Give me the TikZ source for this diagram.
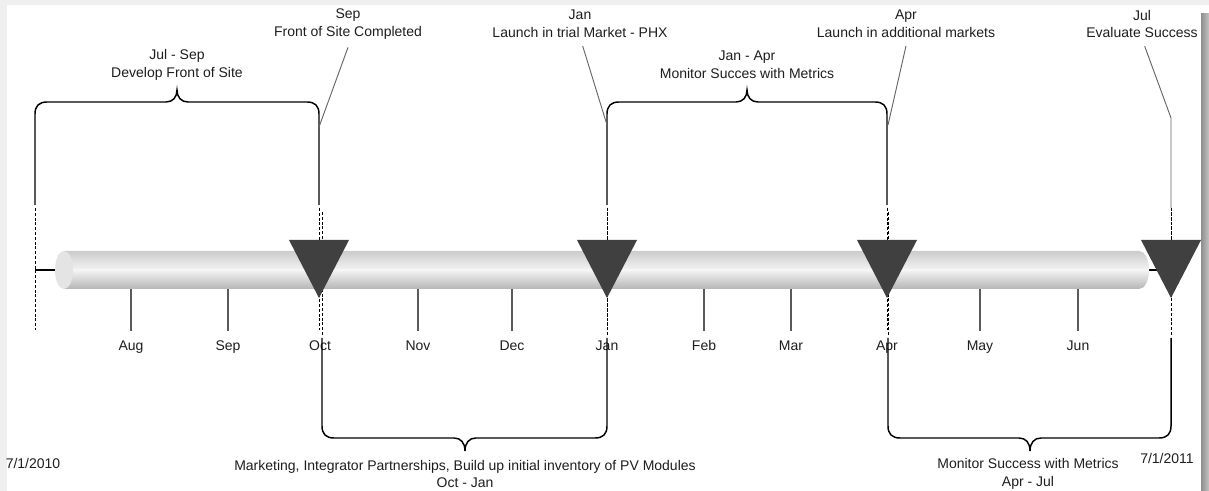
\documentclass[tikz,border=0pt]{standalone}
\usepackage{fontspec}
\setmainfont{Liberation Sans}
\definecolor{framegray}{HTML}{EFEFEF}
\definecolor{shadowdark}{HTML}{8E8E8E}
\definecolor{shadowlight}{HTML}{C4C4C4}
\definecolor{bartop}{HTML}{CACACA}
\definecolor{barmid}{HTML}{F4F4F4}
\definecolor{barbot}{HTML}{B2B2B2}
\definecolor{barcap}{HTML}{E4E4E4}
\definecolor{milestone}{HTML}{404040}
\definecolor{tickgray}{HTML}{5A5A5A}
\definecolor{leadergray}{HTML}{666666}
\definecolor{textcol}{HTML}{1E1E1E}
\tikzset{
  lbl/.style={align=center, inner sep=0pt, text=textcol,
    font=\fontsize{10.5}{13.2}\selectfont},
  monthlbl/.style={inner sep=0pt, anchor=base, text=textcol, font=\fontsize{10.5}{12}\selectfont},
  bracel/.style={draw=black, line width=1.1pt},
  dashl/.style={draw=black, line width=0.75pt, dash pattern=on 2.2pt off 1.4pt},
  leader/.style={draw=leadergray, line width=0.7pt},
  tickl/.style={draw=tickgray, line width=0.9pt},
  stub/.style={draw=black, line width=1.8pt},
  tri/.style={fill=milestone},
}
% brace above the bar: left x, right x, tip x
\newcommand{\TopBrace}[3]{%
  \draw[bracel] (#1,205) -- (#1,114)
    .. controls (#1,106) and ({#1+4},102) .. ({#1+12},102) -- ({#3-11},102)
    .. controls ({#3-4},102) and (#3,97) .. (#3,90)
    .. controls (#3,97) and ({#3+4},102) .. ({#3+11},102) -- ({#2-12},102)
    .. controls ({#2-4},102) and (#2,106) .. (#2,114) -- (#2,205);
  \draw[dashl] (#1,208) -- (#1,330);
  \draw[dashl] (#2,208) -- (#2,330);
}
% brace below the bar: left x, right x, tip x
\newcommand{\BotBrace}[3]{%
  \draw[bracel] (#1,338) -- (#1,426)
    .. controls (#1,434) and ({#1+4},438) .. ({#1+12},438) -- ({#3-11},438)
    .. controls ({#3-4},438) and (#3,443) .. (#3,451)
    .. controls (#3,443) and ({#3+4},438) .. ({#3+11},438) -- ({#2-12},438)
    .. controls ({#2-4},438) and (#2,434) .. (#2,426) -- (#2,338);
  \draw[dashl] (#1,212) -- (#1,336);
  \draw[dashl] (#2,212) -- (#2,336);
}
% milestone marker pointing down onto the bar
\newcommand{\Marker}[1]{%
  \fill[tri] ({#1-30},240) -- ({#1+30},240) -- (#1,298) -- cycle;
}
\begin{document}
\begin{tikzpicture}[x=0.75pt, y=-0.75pt]
\useasboundingbox (0,0) rectangle (1209,491);
% page frame
\fill[white] (0,0) rectangle (1209,491);
\fill[framegray] (0,0) rectangle (7,491);
\fill[framegray] (0,0) rectangle (1209,5);
\shade[left color=shadowdark, right color=shadowlight] (1201,14) rectangle (1209,491);

% end stubs of the time axis
\draw[stub] (35,270) -- (58,270);
\draw[stub] (1145,270) -- (1162,270);

% the cylinder
\begin{scope}
  \clip (64,251) -- (1139,251)
    .. controls (1145,251) and (1149,260) .. (1149,270)
    .. controls (1149,280) and (1145,289) .. (1139,289) -- (64,289) -- cycle;
  \shade[top color=bartop, bottom color=barmid] (55,250) rectangle (1150,270.5);
  \shade[top color=barmid, bottom color=barbot] (55,270) rectangle (1150,290);
\end{scope}
\fill[barcap] (64,270) ellipse [x radius=9, y radius=19];

% month ticks and labels
\foreach \mx in {131, 228, 418, 512, 704, 791, 980, 1078}{
  \draw[tickl] (\mx,289) -- (\mx,331);
}
\foreach \mx/\mn in {131/Aug, 228/Sep, 320/Oct, 418/Nov, 512/Dec, 607/Jan, 704/Feb, 791/Mar, 887/Apr, 980/May, 1078/Jun}{
  \node[monthlbl] (m\mn) at (\mx,350) {\mn};
}

% braces over the phases
\TopBrace{35}{319}{177}
\TopBrace{607}{887}{747}
\BotBrace{322}{607}{465}
\BotBrace{888}{1171}{1030}
\draw[dashl] (1171,208) -- (1171,240);

% milestone markers
\Marker{319}
\Marker{607}
\Marker{887}
\Marker{1171}

% phase labels
\node[lbl] (p1) at (177,65) {Jul - Sep\\Develop Front of Site};
\node[lbl] (p2) at (747,65) {Jan - Apr\\Monitor Succes with Metrics};
\node[lbl] (p3) at (465,474) {Marketing, Integrator Partnerships, Build up initial inventory of PV Modules\\Oct - Jan};
\node[lbl] (p4) at (1028,474) {Monitor Success with Metrics\\Apr - Jul};

% milestone labels and their leaders
\node[lbl] (s1) at (348,24) {Sep\\Front of Site Completed};
\node[lbl] (s2) at (580,24) {Jan\\Launch in trial Market - PHX};
\node[lbl] (s3) at (906,24) {Apr\\Launch in additional markets};
\node[lbl] (s4) at (1142,24) {Jul\\Evaluate Success};
\coordinate (k1) at (319,127);
\coordinate (k2) at (607,125);
\coordinate (k3) at (888,125);
\coordinate (k4) at (1171,118);
\coordinate (k4b) at (1171,208);
\draw[leader] ([yshift=-6pt]s1.south) -- (k1);
\draw[leader] ([xshift=2pt,yshift=-6pt]s2.south) -- (k2);
\draw[leader] ([yshift=-6pt]s3.south) -- (k3);
\draw[leader] ([xshift=2pt,yshift=-6pt]s4.south) -- (k4) -- (k4b);

% dates at both ends
\node[lbl] (d0) at (33,463) {7/1/2010};
\node[lbl] (d1) at (1167,458) {7/1/2011};
\end{tikzpicture}
\end{document}
